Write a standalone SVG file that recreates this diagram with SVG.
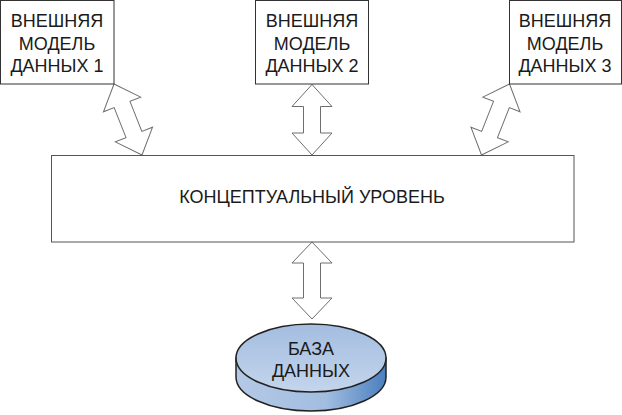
<svg xmlns="http://www.w3.org/2000/svg" width="622" height="415" viewBox="0 0 622 415">
<defs>
<style>
.box{fill:#fff;stroke:#333;stroke-width:1}
.arr{fill:#fff;stroke:#6e6e6e;stroke-width:1;stroke-linejoin:miter}
.t{font-family:"Liberation Sans",Arial,sans-serif;font-size:18px;fill:#1a1a1a;text-anchor:middle}
.tc{font-family:"Liberation Sans",Arial,sans-serif;font-size:18px;fill:#1a1a1a;text-anchor:middle}
.db{stroke:#222;stroke-width:1.5}
</style>
<linearGradient id="gTop" x1="0" y1="0" x2="0" y2="1">
<stop offset="0" stop-color="#a3bde0"/>
<stop offset="1" stop-color="#c4d5ec"/>
</linearGradient>
<linearGradient id="gSide" x1="0" y1="0" x2="1" y2="0">
<stop offset="0" stop-color="#b4c9e6"/>
<stop offset="0.6" stop-color="#a2bde0"/>
<stop offset="1" stop-color="#4a7fbf"/>
</linearGradient>
<polygon id="a76" points="0,-38.2 20,-16.2 8.5,-16.2 8.5,16.2 20,16.2 0,38.2 -20,16.2 -8.5,16.2 -8.5,-16.2 -20,-16.2"/>
</defs>
<g id="connectors">
<use href="#a76" class="arr" transform="translate(128,119.5) rotate(-21.5)"/>
<polygon class="arr" points="312,84.5 332,106.5 320.5,106.5 320.5,133 332,133 312,155 292,133 303.5,133 303.5,106.5 292,106.5"/>
<use href="#a76" class="arr" transform="translate(495.5,119.5) rotate(21.5)"/>
<polygon class="arr" points="312,242 332,263 320.5,263 320.5,298 332,298 312,319 292,298 303.5,298 303.5,263 292,263"/>
</g>
<g id="ext1">
<rect class="box" x="0.5" y="0.5" width="113.5" height="83.5"/>
<text class="t" x="57" y="27">ВНЕШНЯЯ</text>
<text class="t" x="57" y="49.5">МОДЕЛЬ</text>
<text class="t" x="57" y="72">ДАННЫХ 1</text>
</g>
<g id="ext2">
<rect class="box" x="255.5" y="0.5" width="113" height="83.5"/>
<text class="t" x="312" y="27">ВНЕШНЯЯ</text>
<text class="t" x="312" y="49.5">МОДЕЛЬ</text>
<text class="t" x="312" y="72">ДАННЫХ 2</text>
</g>
<g id="ext3">
<rect class="box" x="509.5" y="0.5" width="112" height="83.5"/>
<text class="t" x="565" y="27">ВНЕШНЯЯ</text>
<text class="t" x="565" y="49.5">МОДЕЛЬ</text>
<text class="t" x="565" y="72">ДАННЫХ 3</text>
</g>
<g id="conceptual">
<rect class="box" x="51.5" y="155.5" width="522.5" height="86.5" style="stroke:#555"/>
<text class="tc" x="312" y="203">КОНЦЕПТУАЛЬНЫЙ УРОВЕНЬ</text>
</g>
<g id="database">
<path class="db" fill="url(#gSide)" d="M236,358 L236,377 A75,34 0 0 0 386,377 L386,358 Z"/>
<ellipse class="db" cx="311" cy="358" rx="75" ry="34" fill="url(#gTop)"/>
<text class="t" x="311" y="355">БАЗА</text>
<text class="t" x="311" y="377">ДАННЫХ</text>
</g>
</svg>
